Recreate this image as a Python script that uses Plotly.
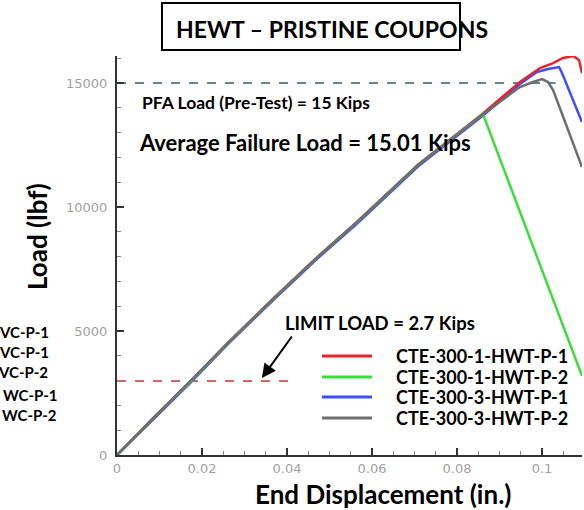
import plotly.graph_objects as go

# ---- data ----
red_x = [0, 0.0085, 0.0172, 0.0261, 0.0372, 0.0472, 0.0565, 0.0708, 0.0861, 0.0948, 0.0995, 0.1026, 0.1049, 0.1073, 0.1087, 0.1094]
red_y = [0, 1500, 2960, 4530, 6390, 8000, 9410, 11710, 13770, 15040, 15605, 15800, 16010, 16090, 15930, 15400]

green_x = [0, 0.0085, 0.0172, 0.0261, 0.0372, 0.0472, 0.0565, 0.0708, 0.0861, 0.1094]
green_y = [0, 1480, 2940, 4510, 6370, 7990, 9390, 11690, 13750, 3190]

blue_x = [0, 0.0085, 0.0172, 0.0261, 0.0372, 0.0472, 0.0565, 0.0708, 0.0861, 0.0948, 0.0988, 0.1014, 0.1040, 0.1047, 0.1094]
blue_y = [0, 1440, 2900, 4470, 6320, 7930, 9330, 11630, 13690, 14960, 15445, 15565, 15645, 15400, 13430]

gray_x = [0, 0.0085, 0.0172, 0.0261, 0.0372, 0.0472, 0.0565, 0.0708, 0.0861, 0.0948, 0.0979, 0.1000, 0.1014, 0.1026, 0.1094]
gray_y = [0, 1470, 2940, 4510, 6370, 7980, 9395, 11690, 13740, 14840, 15040, 15160, 15040, 14720, 11610]

pfa_x = [0, 0.1032]
pfa_y = [15000, 15000]
limit_x = [0, 0.0412]
limit_y = [2980, 2980]

series_names = ["CTE-300-1-HWT-P-1", "CTE-300-1-HWT-P-2", "CTE-300-3-HWT-P-1", "CTE-300-3-HWT-P-2"]
series_colors = ["#e8262a", "#3ddc3d", "#3f4dff", "#6e6e6e"]
cut_labels = ["VC-P-1", "VC-P-1", "VC-P-2", "WC-P-1", "WC-P-2"]

x_tickvals = [0, 0.02, 0.04, 0.06, 0.08, 0.1]
x_ticktext = ["0", "0.02", "0.04", "0.06", "0.08", "0.1"]
y_tickvals = [0, 5000, 10000, 15000]
y_ticktext = ["0", "5000", "10000", "15000"]

# ---- helpers: pixel -> paper ----
L, T, R, B = 117, 56, 582, 455
def px(x):
    return (x - L) / (R - L)
def py(y):
    return (B - y) / (B - T)

BOLD = "Lato"
fig = go.Figure()

fig.add_trace(go.Scatter(x=pfa_x, y=pfa_y, mode="lines", showlegend=False,
                         line=dict(color="#2e5e6e", width=1.5, dash="dash")))
fig.add_trace(go.Scatter(x=limit_x, y=limit_y, mode="lines", showlegend=False,
                         line=dict(color="#cc3333", width=1.5, dash="dash")))

draw_order = [2, 0, 1, 3]
curves = [(red_x, red_y), (green_x, green_y), (blue_x, blue_y), (gray_x, gray_y)]
for i in draw_order:
    fig.add_trace(go.Scatter(x=curves[i][0], y=curves[i][1], mode="lines", name=series_names[i],
                             showlegend=False, line=dict(color=series_colors[i], width=2.5)))

tickfont = dict(family="DejaVu Sans", size=13, color="#9f9f9f")

fig.update_xaxes(range=[0, 0.1094], showline=True, linecolor="#333333", linewidth=2,
                 ticks="inside", ticklen=7, tickwidth=2, tickcolor="#333333",
                 tickvals=x_tickvals, ticktext=x_ticktext, tickfont=tickfont,
                 minor=dict(ticks="inside", ticklen=4, tickwidth=1, tickcolor="#888888", dtick=0.005),
                 showgrid=False, zeroline=False)
fig.update_yaxes(range=[0, 16090], showline=True, linecolor="#333333", linewidth=2,
                 ticks="inside", ticklen=7, tickwidth=2, tickcolor="#333333",
                 tickvals=y_tickvals, ticktext=y_ticktext, tickfont=tickfont, ticklabelstandoff=5,
                 minor=dict(ticks="inside", ticklen=4, tickwidth=1, tickcolor="#888888", dtick=1000),
                 showgrid=False, zeroline=False)

annots = [
    # axis titles (placed where the reference has them)
    dict(x=px(383), y=py(494), xref="paper", yref="paper", text="<b>End Displacement (in.)</b>",
         showarrow=False, xanchor="center", yanchor="middle", font=dict(family=BOLD, size=26, color="black")),
    dict(x=px(37), y=py(237), xref="paper", yref="paper", text="<b>Load (lbf)</b>", textangle=-90,
         showarrow=False, xanchor="center", yanchor="middle", font=dict(family=BOLD, size=26, color="black")),
    dict(x=0.0054, y=14234, xref="x", yref="y", text="<b>PFA Load (Pre-Test) = 15 Kips</b>",
         showarrow=False, xanchor="left", yanchor="middle", font=dict(family=BOLD, size=17.5, color="black")),
    dict(x=0.0047, y=12621, xref="x", yref="y", text="<b>Average Failure Load = 15.01 Kips</b>",
         showarrow=False, xanchor="left", yanchor="middle", font=dict(family=BOLD, size=22, color="black")),
    dict(x=0.0391, y=5323, xref="x", yref="y", text="<b>LIMIT LOAD = 2.7 Kips</b>",
         showarrow=False, xanchor="left", yanchor="middle", font=dict(family=BOLD, size=18.5, color="black")),
    dict(x=0.0341, y=3105, xref="x", yref="y", text="", showarrow=True, ax=31, ay=-43,
         arrowhead=2, arrowsize=1.4, arrowwidth=2, arrowcolor="black"),
    dict(x=px(332), y=py(29), xref="paper", yref="paper",
         text="<b>HEWT \u2013 PRISTINE COUPONS</b>", showarrow=False, xanchor="center", yanchor="middle",
         font=dict(family=BOLD, size=23, color="black")),
]
cut_y = [332, 352, 372, 395, 415]
cut_right = [51, 51, 50, 59, 59]
for lab, yy, xx in zip(cut_labels, cut_y, cut_right):
    annots.append(dict(x=px(xx), y=py(yy), xref="paper", yref="paper",
                       text="<b>" + lab + "</b>", showarrow=False, xanchor="right", yanchor="middle",
                       font=dict(family=BOLD, size=15, color="black")))

# manual legend
leg_y = [356, 377, 397, 418]
shapes = [dict(type="rect", xref="paper", yref="paper",
               x0=px(162), x1=px(460), y0=py(50), y1=py(3),
               line=dict(color="black", width=2), fillcolor="rgba(0,0,0,0)")]
for name, col, yy in zip(series_names, series_colors, leg_y):
    shapes.append(dict(type="line", xref="paper", yref="paper", x0=px(322), x1=px(372),
                       y0=py(yy), y1=py(yy), line=dict(color=col, width=3)))
    annots.append(dict(x=px(394), y=py(yy), xref="paper", yref="paper", text="<b>" + name + "</b>",
                       showarrow=False, xanchor="left", yanchor="middle",
                       font=dict(family=BOLD, size=18, color="black")))

fig.update_layout(
    width=584, height=510,
    margin=dict(l=L, r=584 - R, t=T, b=510 - B, autoexpand=False),
    plot_bgcolor="white", paper_bgcolor="white",
    annotations=annots, shapes=shapes, showlegend=False,
)

fig.write_html("out.html", config={"displayModeBar": False},
               post_script="document.body.style.margin='0';document.body.style.padding='0';")
